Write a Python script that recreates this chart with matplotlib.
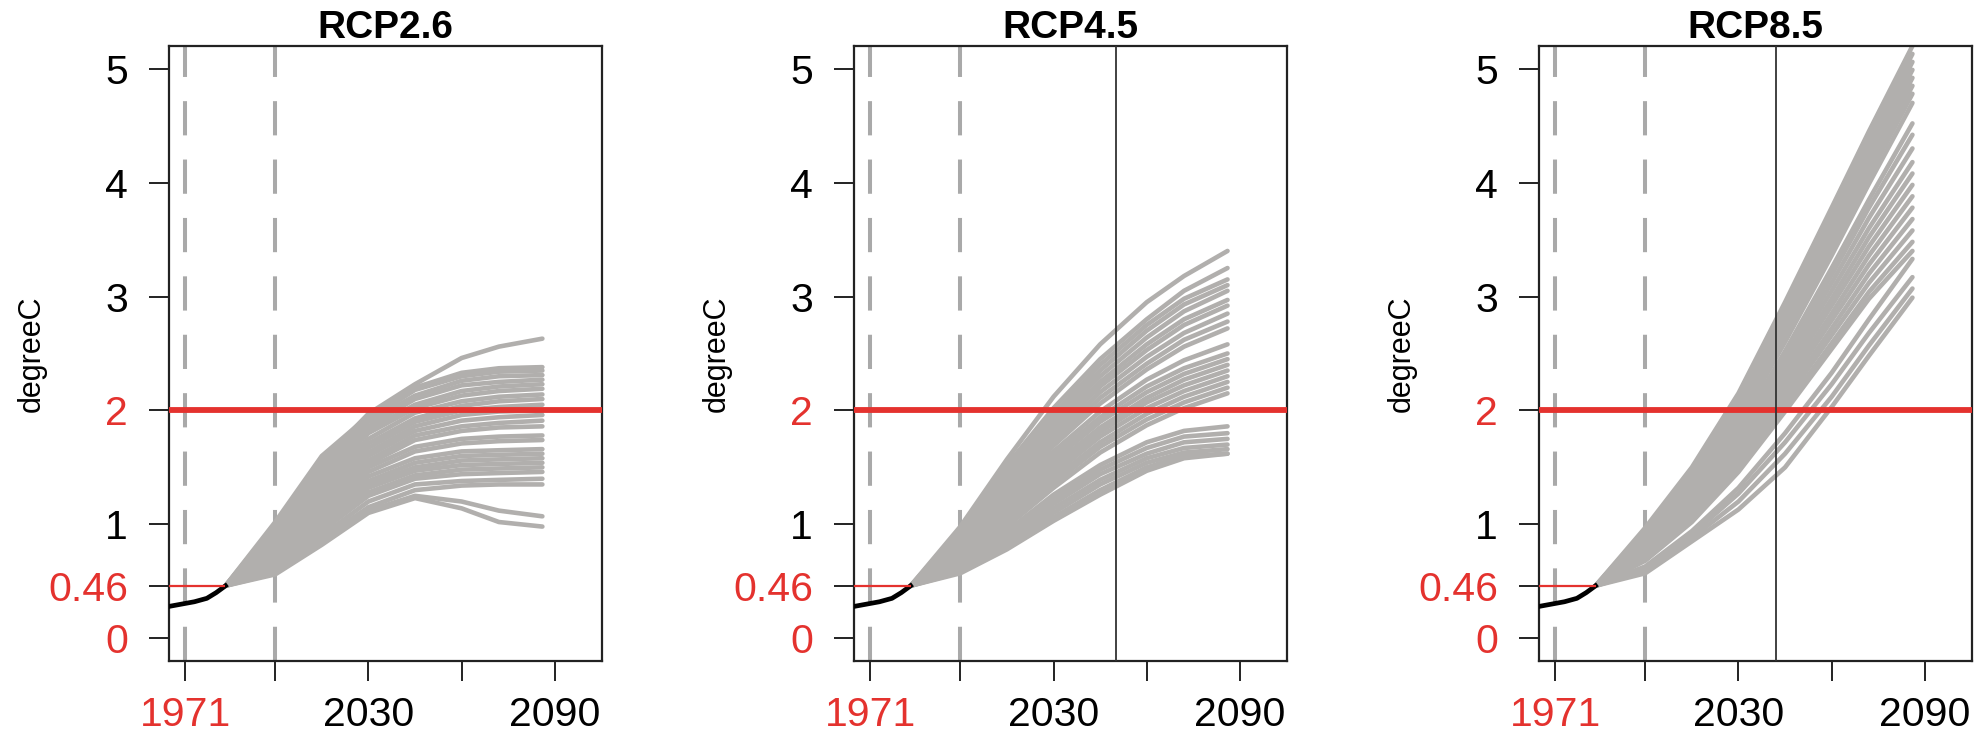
import matplotlib
matplotlib.use("Agg")
import matplotlib.pyplot as plt

plt.rcParams["font.family"] = ["Liberation Sans", "DejaVu Sans"]

# observed series (black) and projection years (gray ensembles)
obs_years = [1966, 1970, 1974, 1978, 1981, 1984]
obs_vals = [0.28, 0.30, 0.32, 0.35, 0.40, 0.46]

proj_years = [1984, 2000, 2015, 2030, 2045, 2060, 2072, 2086]

rcp26 = [
    [0.46, 1.00, 1.55, 1.97, 2.23, 2.46, 2.56, 2.63],
    [0.46, 1.02, 1.60, 1.95, 2.20, 2.33, 2.37, 2.38],
    [0.46, 0.98, 1.55, 1.92, 2.18, 2.30, 2.34, 2.35],
    [0.46, 0.95, 1.50, 1.90, 2.13, 2.26, 2.30, 2.31],
    [0.46, 0.93, 1.47, 1.86, 2.10, 2.22, 2.25, 2.27],
    [0.46, 0.90, 1.44, 1.83, 2.05, 2.17, 2.21, 2.23],
    [0.46, 0.88, 1.40, 1.80, 2.02, 2.13, 2.17, 2.19],
    [0.46, 0.86, 1.37, 1.75, 1.98, 2.08, 2.12, 2.14],
    [0.46, 0.84, 1.34, 1.71, 1.93, 2.04, 2.08, 2.10],
    [0.46, 0.82, 1.30, 1.67, 1.90, 2.00, 2.03, 2.05],
    [0.46, 0.80, 1.27, 1.63, 1.86, 1.96, 1.99, 2.00],
    [0.46, 0.79, 1.24, 1.60, 1.82, 1.91, 1.94, 1.96],
    [0.46, 0.77, 1.21, 1.56, 1.78, 1.86, 1.89, 1.91],
    [0.46, 0.76, 1.18, 1.53, 1.74, 1.82, 1.85, 1.86],
    [0.46, 0.74, 1.15, 1.50, 1.68, 1.75, 1.77, 1.78],
    [0.46, 0.73, 1.12, 1.46, 1.64, 1.71, 1.73, 1.74],
    [0.46, 0.71, 1.09, 1.42, 1.58, 1.64, 1.65, 1.66],
    [0.46, 0.70, 1.06, 1.38, 1.54, 1.60, 1.61, 1.62],
    [0.46, 0.68, 1.03, 1.35, 1.50, 1.56, 1.57, 1.58],
    [0.46, 0.67, 1.00, 1.32, 1.47, 1.52, 1.53, 1.54],
    [0.46, 0.65, 0.97, 1.28, 1.43, 1.48, 1.49, 1.50],
    [0.46, 0.63, 0.94, 1.25, 1.40, 1.44, 1.45, 1.46],
    [0.46, 0.61, 0.90, 1.20, 1.35, 1.38, 1.39, 1.40],
    [0.46, 0.59, 0.87, 1.15, 1.30, 1.34, 1.35, 1.35],
    [0.46, 0.57, 0.84, 1.12, 1.25, 1.20, 1.12, 1.07],
    [0.46, 0.56, 0.82, 1.10, 1.23, 1.14, 1.02, 0.98],
]

rcp45 = [
    [0.46, 0.98, 1.57, 2.12, 2.58, 2.95, 3.18, 3.40],
    [0.46, 0.95, 1.52, 2.02, 2.45, 2.80, 3.05, 3.25],
    [0.46, 0.93, 1.48, 1.97, 2.40, 2.75, 2.98, 3.15],
    [0.46, 0.91, 1.45, 1.93, 2.35, 2.70, 2.93, 3.10],
    [0.46, 0.89, 1.41, 1.89, 2.30, 2.64, 2.87, 3.05],
    [0.46, 0.87, 1.38, 1.85, 2.25, 2.58, 2.80, 2.97],
    [0.46, 0.85, 1.35, 1.81, 2.21, 2.53, 2.75, 2.92],
    [0.46, 0.83, 1.32, 1.77, 2.16, 2.47, 2.68, 2.85],
    [0.46, 0.82, 1.29, 1.73, 2.11, 2.41, 2.62, 2.78],
    [0.46, 0.80, 1.26, 1.69, 2.06, 2.36, 2.56, 2.72],
    [0.46, 0.78, 1.22, 1.64, 1.99, 2.27, 2.44, 2.58],
    [0.46, 0.77, 1.19, 1.60, 1.94, 2.21, 2.37, 2.50],
    [0.46, 0.75, 1.16, 1.56, 1.90, 2.16, 2.32, 2.45],
    [0.46, 0.74, 1.13, 1.52, 1.85, 2.11, 2.27, 2.40],
    [0.46, 0.72, 1.10, 1.48, 1.81, 2.07, 2.22, 2.35],
    [0.46, 0.71, 1.07, 1.44, 1.77, 2.02, 2.17, 2.30],
    [0.46, 0.69, 1.04, 1.40, 1.72, 1.97, 2.12, 2.25],
    [0.46, 0.68, 1.01, 1.36, 1.68, 1.92, 2.07, 2.20],
    [0.46, 0.66, 0.98, 1.32, 1.63, 1.87, 2.02, 2.15],
    [0.46, 0.64, 0.94, 1.26, 1.52, 1.72, 1.82, 1.86],
    [0.46, 0.63, 0.91, 1.22, 1.48, 1.67, 1.77, 1.80],
    [0.46, 0.61, 0.88, 1.18, 1.44, 1.62, 1.72, 1.75],
    [0.46, 0.60, 0.85, 1.14, 1.39, 1.58, 1.67, 1.70],
    [0.46, 0.59, 0.82, 1.10, 1.35, 1.54, 1.63, 1.66],
    [0.46, 0.58, 0.80, 1.06, 1.30, 1.50, 1.60, 1.62],
    [0.46, 0.57, 0.78, 1.03, 1.26, 1.47, 1.58, 1.62],
]

rcp85 = [
    [0.46, 0.97, 1.50, 2.15, 2.95, 3.78, 4.45, 5.20],
    [0.46, 0.95, 1.47, 2.11, 2.90, 3.72, 4.39, 5.13],
    [0.46, 0.93, 1.44, 2.07, 2.85, 3.66, 4.32, 5.06],
    [0.46, 0.91, 1.41, 2.03, 2.80, 3.60, 4.26, 4.99],
    [0.46, 0.89, 1.38, 1.99, 2.75, 3.54, 4.19, 4.92],
    [0.46, 0.87, 1.35, 1.95, 2.70, 3.48, 4.13, 4.85],
    [0.46, 0.85, 1.33, 1.92, 2.65, 3.42, 4.06, 4.78],
    [0.46, 0.83, 1.30, 1.88, 2.60, 3.36, 3.99, 4.70],
    [0.46, 0.82, 1.27, 1.83, 2.52, 3.25, 3.85, 4.52],
    [0.46, 0.81, 1.25, 1.80, 2.48, 3.19, 3.78, 4.42],
    [0.46, 0.80, 1.23, 1.77, 2.43, 3.12, 3.69, 4.30],
    [0.46, 0.78, 1.20, 1.73, 2.38, 3.05, 3.60, 4.18],
    [0.46, 0.77, 1.18, 1.70, 2.33, 2.98, 3.52, 4.08],
    [0.46, 0.76, 1.16, 1.66, 2.28, 2.92, 3.44, 3.98],
    [0.46, 0.74, 1.13, 1.63, 2.23, 2.85, 3.36, 3.88],
    [0.46, 0.73, 1.11, 1.59, 2.18, 2.79, 3.28, 3.78],
    [0.46, 0.72, 1.09, 1.56, 2.13, 2.72, 3.20, 3.68],
    [0.46, 0.70, 1.06, 1.52, 2.08, 2.66, 3.12, 3.58],
    [0.46, 0.69, 1.04, 1.49, 2.03, 2.59, 3.04, 3.48],
    [0.46, 0.68, 1.02, 1.46, 1.99, 2.54, 2.98, 3.40],
    [0.46, 0.63, 0.94, 1.32, 1.80, 2.33, 2.80, 3.33],
    [0.46, 0.61, 0.91, 1.27, 1.72, 2.23, 2.68, 3.17],
    [0.46, 0.59, 0.88, 1.20, 1.62, 2.12, 2.57, 3.07],
    [0.46, 0.57, 0.85, 1.13, 1.50, 2.03, 2.48, 2.99],
]

titles = ["RCP2.6", "RCP4.5", "RCP8.5"]
ensembles = [rcp26, rcp45, rcp85]
cross_years = [None, 2050, 2042]  # year the ensemble passes 2 degC
base_period = [1971, 2000]
baseline = 0.46
target = 2

yticks = [0, baseline, 1, 2, 3, 4, 5]
ytick_labels = ["0", "0.46", "1", "2", "3", "4", "5"]
ytick_red = [True, True, False, True, False, False, False]
xticks = [1971, 2000, 2030, 2060, 2090]
xtick_labels = ["1971", "", "2030", "", "2090"]

RED = "#e4322e"
GRAY = "#b1afad"

fig = plt.figure(figsize=(19.83, 7.41), dpi=100)
lefts = [0.0852, 0.4307, 0.7761]

for i, (title, runs) in enumerate(zip(titles, ensembles)):
    ax = fig.add_axes([lefts[i], 0.108, 0.2184, 0.830])

    for x in base_period:
        ax.axvline(x, color="#a9a9a9", lw=2.9, ls=(0, (8.5, 6.0)), zorder=1)

    for run in runs:
        ax.plot(proj_years, run, color=GRAY, lw=3.3, solid_capstyle="round",
                solid_joinstyle="round", zorder=2)

    ax.plot(obs_years, obs_vals, color="black", lw=3.4, zorder=3)
    ax.hlines(baseline, obs_years[0] - 0.5, obs_years[-1], color=RED, lw=1.6, zorder=3)
    ax.axhline(target, color=RED, lw=4.2, zorder=4)
    if cross_years[i] is not None:
        ax.axvline(cross_years[i], color="#333333", lw=1.3, zorder=5)

    ax.set_xlim(1965.8, 2105.2)
    ax.set_ylim(-0.2, 5.2)

    ax.set_yticks(yticks)
    ax.set_yticklabels(ytick_labels)
    for lab, red in zip(ax.get_yticklabels(), ytick_red):
        lab.set_color(RED if red else "black")
    ax.set_xticks(xticks)
    ax.set_xticklabels(xtick_labels)
    ax.get_xticklabels()[0].set_color(RED)

    ax.tick_params(axis="both", direction="out", length=14.5, width=1.4,
                   labelsize=29.5, color="#222222")
    ax.tick_params(axis="y", pad=15)
    ax.tick_params(axis="x", pad=11)
    for sp in ax.spines.values():
        sp.set_linewidth(1.6)
        sp.set_color("#222222")

    ax.set_ylabel("degreeC", fontsize=22)
    ax.yaxis.set_label_coords(-0.282, 0.5)
    ax.set_title(title, fontsize=28, fontweight="bold", pad=5)

fig.savefig("out.png", dpi=100)
